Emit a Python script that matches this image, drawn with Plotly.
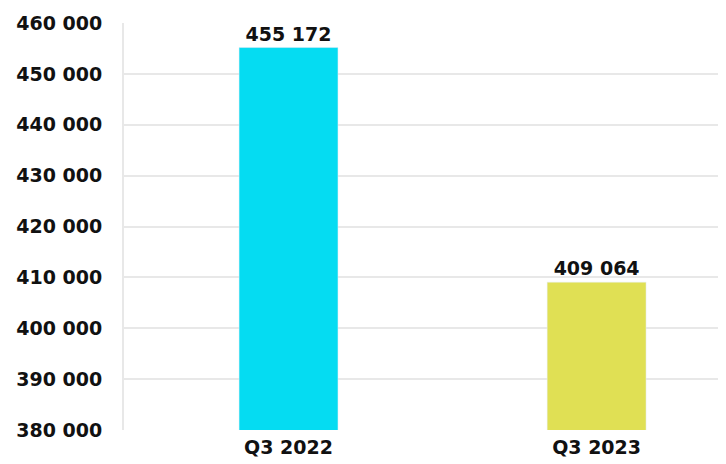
import plotly.graph_objects as go

categories = ["Q3 2022", "Q3 2023"]
values = [455172, 409064]
colors = ["#05DCF2", "#E0E054"]

FONT = dict(family="DejaVu Sans", size=19, color="#111111", weight="bold")

fig = go.Figure()
fig.add_trace(go.Bar(
    x=[0, 1], y=values, marker_color=colors, width=0.321,
    texttemplate="%{y:,}", textposition="outside", cliponaxis=False,
    textfont=FONT,
))
# page body adds an 8px offset; size the figure to fill the remaining window
fig.update_layout(
    width=718, height=456, separators=". ",
    margin=dict(l=116, r=0, t=15, b=34, autoexpand=False),
    plot_bgcolor="white", paper_bgcolor="white", showlegend=False,
    font=FONT,
)
fig.update_xaxes(range=[-0.534, 1.42], tickvals=[0, 1], ticktext=categories,
                 showgrid=False, showline=False, ticks="", ticklabelstandoff=4,
                 automargin=False)
fig.update_yaxes(range=[380000, 460000], dtick=10000, tickformat=",",
                 showgrid=True, gridcolor="#e8e8e8", gridwidth=2,
                 showline=True, linecolor="#e8e8e8", linewidth=2,
                 zeroline=False, ticks="", ticklabelstandoff=16, automargin=False)
fig.write_html("out.html")
